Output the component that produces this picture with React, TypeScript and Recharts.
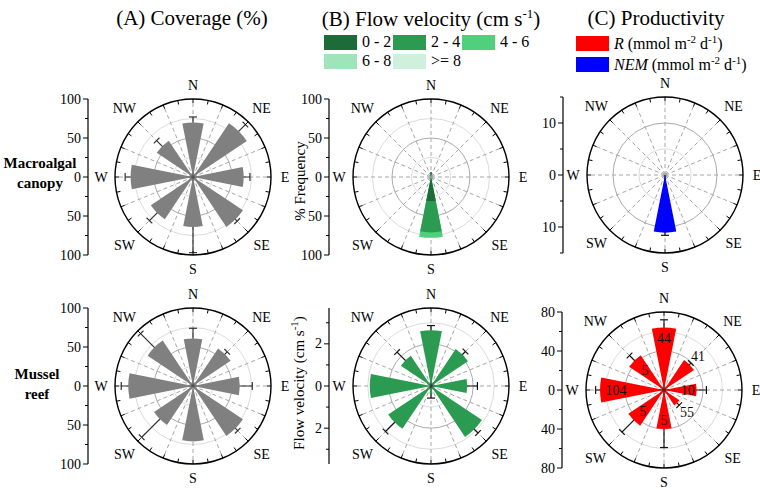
import React from 'react';
import { RadarChart, Radar, PolarGrid, PolarAngleAxis, PolarRadiusAxis, Sector, LineChart, YAxis } from 'recharts';

const SERIF = '"Liberation Serif", "Times New Roman", serif';

const directions = ['N', 'NE', 'E', 'SE', 'S', 'SW', 'W', 'NW'];
// 32 angular slots (every 11.25 deg) so the compass ring gets its minor ticks
const angleKeys = Array.from({ length: 32 }, (_, i) => String(i * 11.25));

// (A) Coverage (%), mean and + error
const canopyCover = [70, 83, 65, 77, 64, 65, 80, 56];
const canopyCoverErr = [7, 12, 8, 3, 33, 14, 7, 10];
const reefCover = [61, 58, 60, 77, 71, 60, 83, 70];
const reefCoverErr = [13, 4, 16, 4, 0, 33, 9, 25];

// (B) Flow velocity: canopy as % frequency per speed class, reef as mean velocity
const speedClasses = ['0 - 2', '2 - 4', '4 - 6', '6 - 8', '>= 8'];
const canopyFreq0to2 = [6, 0, 0, 0, 31, 0, 0, 0];
const canopyFreq2to4 = [0, 0, 0, 0, 40, 0, 0, 0];
const canopyFreq4to6 = [0, 0, 0, 0, 7, 0, 0, 0];
const reefVelocity = [2.86, 2.28, 1.86, 3.14, 0.4, 2.64, 3.14, 1.86];
const reefVelocityErr = [0.24, 0.22, 0.52, 0.27, 0.22, 0.66, 0, 0.6];

// (C) Productivity
const canopyNEM = [0, 0, 0, 0, 11.1, 0, 0, 0];
const canopyNEMErr = [0, 0, 0, 0, 0.5, 0, 0, 0];
const reefR = [64, 37, 33.5, 19, 40, 44, 65.6, 43];
const reefRErr = [8, 2, 10, 3, 19, 17, 4.5, 7];
const reefRCounts = ['44', '41', '10', '55', '5', '5', '104', '5'];

// radius axis ticks (labelled ones are a subset)
const coverageTicks = [0, 25, 50, 75, 100];
const coverageLabels = [0, 50, 100];
const velocityTicks = [0, 1, 2, 3];
const velocityLabels = [0, 2];
const nemTicks = [0, 5, 10, 15];
const nemLabels = [0, 10];
const rTicks = [0, 20, 40, 60, 80];
const rLabels = [0, 40, 80];

const speedColors = ['#1d6b39', '#2a9b50', '#50cf7d', '#a0e4ba', '#d0f0de'];
const GRAY = '#808080';
const RED = '#ff0000';
const BLUE = '#0000ff';

const R = 78;
const BOX = 125;
const HALF = 11.25;
const RAD = Math.PI / 180;
const spokeAngles = Array.from({ length: 16 }, (_, i) => i * 22.5);

function roseRows(series: Record<string, (number | null)[]>) {
  return angleKeys.map((key, i) => {
    const row: Record<string, any> = { key };
    if (i % 4 === 0) {
      Object.entries(series).forEach(([name, vals]) => {
        row[name] = vals[i / 4];
      });
    }
    return row;
  });
}

const withErr = (v: number[], e: number[]) => v.map((x, i) => (e[i] > 0 ? x + e[i] : null));
const cumulative = (...layers: number[][]) =>
  layers.map((_, k) => layers[0].map((__, i) => layers.slice(0, k + 1).reduce((s, l) => s + l[i], 0)));

const okPoint = (p: any) => Number.isFinite(p.radius) && p.radius > 0 && p.value != null;

const wedgeShape = (color: string) => (props: any) => (
  <g>
    {(props.points || []).filter(okPoint).map((p: any, i: number) => (
      <Sector
        key={i}
        cx={p.cx}
        cy={p.cy}
        innerRadius={0}
        outerRadius={p.radius}
        startAngle={p.angle - HALF}
        endAngle={p.angle + HALF}
        fill={color}
        stroke="none"
      />
    ))}
  </g>
);

const errorShape = (color: string) => (props: any) => (
  <g>
    {(props.points || []).filter(okPoint).map((p: any, i: number) => {
      const ux = Math.cos(-p.angle * RAD);
      const uy = Math.sin(-p.angle * RAD);
      return (
        <g key={i} stroke={color} strokeWidth={1.2}>
          <line x1={p.cx} y1={p.cy} x2={p.x} y2={p.y} />
          <line x1={p.x - 4 * uy} y1={p.y + 4 * ux} x2={p.x + 4 * uy} y2={p.y - 4 * ux} />
        </g>
      );
    })}
  </g>
);

// label offsets (px along the radius from the bar end), N..NW
const countOffsets = [-11, 12, -9, 14, -9, -13, -16, -15];

const countShape = (texts: string[]) => (props: any) => (
  <g>
    {(props.points || []).filter(okPoint).map((p: any, i: number) => {
      const idx = Math.round(Number(p.payload.key) / 45);
      const rr = p.radius + countOffsets[idx];
      return (
        <text
          key={i}
          x={p.cx + rr * Math.cos(-p.angle * RAD)}
          y={p.cy + rr * Math.sin(-p.angle * RAD)}
          textAnchor="middle"
          dominantBaseline="central"
          fontSize={14}
          fontFamily={SERIF}
          fill="#111"
        >
          {texts[idx]}
        </text>
      );
    })}
  </g>
);

const dirTick = (props: any) => {
  const deg = Number(props.payload.value);
  if (deg % 45 !== 0) return <g />;
  const rr = R + (deg % 90 === 0 ? 14 : 19);
  return (
    <text
      x={BOX + rr * Math.sin(deg * RAD)}
      y={BOX - rr * Math.cos(deg * RAD)}
      textAnchor="middle"
      dominantBaseline="central"
      fontSize={14}
      fontFamily={SERIF}
      fill="#000"
    >
      {directions[deg / 45]}
    </text>
  );
};

type Layer = { key: string; color: string; kind: 'wedge' | 'error' | 'count'; texts?: string[] };

interface RoseProps {
  cx: number;
  cy: number;
  max: number;
  majors: number[];
  minors: number[];
  rows: Record<string, any>[];
  layers: Layer[];
}

function Rose({ cx, cy, max, majors, minors, rows, layers }: RoseProps) {
  const px = (v: number) => (v / max) * R;
  return (
    <div style={{ position: 'absolute', left: cx - BOX, top: cy - BOX }}>
      <RadarChart
        width={BOX * 2}
        height={BOX * 2}
        cx={BOX}
        cy={BOX}
        innerRadius={0}
        outerRadius={R}
        startAngle={90}
        endAngle={-270}
        data={rows}
        margin={{ top: 0, right: 0, bottom: 0, left: 0 }}
      >
        <PolarGrid gridType="circle" radialLines={false} polarRadius={minors.map(px)} stroke="#dcdcdc" />
        <PolarGrid gridType="circle" radialLines={false} polarRadius={majors.map(px)} stroke="#ababab" />
        <PolarGrid gridType="circle" polarRadius={[]} polarAngles={spokeAngles} stroke="#a6a6a6" strokeDasharray="4 3" />
        <PolarRadiusAxis type="number" domain={[0, max]} allowDataOverflow tick={false} axisLine={false} />
        <PolarAngleAxis
          dataKey="key"
          axisLineType="circle"
          axisLine={{ stroke: '#000', strokeWidth: 1.4 }}
          tickLine={{ stroke: '#000' }}
          orientation="inner"
          tickSize={4}
          tick={dirTick}
        />
        {layers.map((l) => (
          <Radar
            key={l.key + l.kind}
            dataKey={l.key}
            isAnimationActive={false}
            shape={
              l.kind === 'wedge' ? wedgeShape(l.color) : l.kind === 'error' ? errorShape(l.color) : countShape(l.texts || [])
            }
          />
        ))}
      </RadarChart>
    </div>
  );
}

function SideAxis({ axisX, cy, max, ticks, labeled }: { axisX: number; cy: number; max: number; ticks: number[]; labeled: number[] }) {
  const W = 60;
  const allTicks = [...ticks.slice(1).map((t) => -t).reverse(), ...ticks];
  const renderTick = (props: any) => {
    const { x, y, payload } = props;
    const v = Math.abs(payload.value);
    const major = labeled.includes(v);
    return (
      <g>
        <line x1={x} x2={x - (major ? 5 : 3)} y1={y} y2={y} stroke="#000" />
        {major && (
          <text x={x - 7} y={y} textAnchor="end" dominantBaseline="central" fontSize={14} fontFamily={SERIF} fill="#000">
            {v}
          </text>
        )}
      </g>
    );
  };
  return (
    <div style={{ position: 'absolute', left: axisX - W, top: cy - R - 10 }}>
      <LineChart width={W + 10} height={2 * R + 20} data={[]} margin={{ top: 10, right: 0, bottom: 10, left: 0 }}>
        <YAxis
          type="number"
          domain={[-max, max]}
          allowDataOverflow
          ticks={allTicks}
          interval={0}
          width={W}
          tickSize={0}
          tickMargin={0}
          tickLine={false}
          axisLine={{ stroke: '#000', strokeWidth: 1.2 }}
          tick={renderTick}
        />
      </LineChart>
    </div>
  );
}

const abs = (x: number, y: number): React.CSSProperties => ({ position: 'absolute', left: x, top: y });

function Swatch({ x, y, color, children }: { x: number; y: number; color: string; children: React.ReactNode }) {
  return (
    <div style={{ ...abs(x, y), display: 'flex', alignItems: 'center', whiteSpace: 'nowrap', fontSize: 16 }}>
      <div style={{ width: 33, height: 15, background: color, marginRight: 5 }} />
      <span>{children}</span>
    </div>
  );
}

export default function App() {
  const [cCover, rCover] = [
    roseRows({ v: canopyCover, hi: withErr(canopyCover, canopyCoverErr) }),
    roseRows({ v: reefCover, hi: withErr(reefCover, reefCoverErr) }),
  ];
  const [c1, c2, c3] = cumulative(canopyFreq0to2, canopyFreq2to4, canopyFreq4to6);
  const cFlow = roseRows({ c1, c2, c3 });
  const rFlow = roseRows({ v: reefVelocity, hi: withErr(reefVelocity, reefVelocityErr) });
  const cProd = roseRows({ v: canopyNEM, hi: withErr(canopyNEM, canopyNEMErr) });
  const rProd = roseRows({ v: reefR, hi: withErr(reefR, reefRErr) });

  const title: React.CSSProperties = { position: 'absolute', top: 6, fontSize: 21, whiteSpace: 'nowrap', transform: 'translateX(-50%)' };
  const rowLabel: React.CSSProperties = { position: 'absolute', fontWeight: 'bold', fontSize: 15, textAlign: 'center', lineHeight: '20px', transform: 'translateX(-50%)' };
  const vTitle: React.CSSProperties = { position: 'absolute', fontSize: 15, whiteSpace: 'nowrap', transform: 'translate(-50%, -50%) rotate(-90deg)' };

  return (
    <div style={{ position: 'absolute', left: 0, top: 0, width: 760, height: 490, background: '#fff', fontFamily: SERIF, color: '#000', overflow: 'hidden' }}>
      <div style={{ ...title, left: 192 }}>(A) Coverage (%)</div>
      <div style={{ ...title, left: 431 }}>
        (B) Flow velocity (cm s<sup style={{ fontSize: 13 }}>-1</sup>)
      </div>
      <div style={{ ...title, left: 656 }}>(C) Productivity</div>

      {speedClasses.map((s, i) => (
        <Swatch key={s} x={324 + (i % 3) * 69} y={33 + Math.floor(i / 3) * 19} color={speedColors[i]}>
          {s}
        </Swatch>
      ))}
      <Swatch x={576} y={33} color={RED}>
        <i>R</i> (mmol m<sup style={{ fontSize: 11 }}>-2</sup> d<sup style={{ fontSize: 11 }}>-1</sup>)
      </Swatch>
      <Swatch x={576} y={54} color={BLUE}>
        <i>NEM</i> (mmol m<sup style={{ fontSize: 11 }}>-2</sup> d<sup style={{ fontSize: 11 }}>-1</sup>)
      </Swatch>

      <div style={{ ...rowLabel, left: 40, top: 153 }}>
        Macroalgal
        <br />
        canopy
      </div>
      <div style={{ ...rowLabel, left: 37, top: 364 }}>
        Mussel
        <br />
        reef
      </div>

      <div style={{ ...vTitle, left: 300, top: 181 }}>% Frequency</div>
      <div style={{ ...vTitle, left: 298, top: 383 }}>
        Flow velocity (cm s<sup style={{ fontSize: 11 }}>-1</sup>)
      </div>

      <SideAxis axisX={88} cy={177} max={100} ticks={coverageTicks} labeled={coverageLabels} />
      <SideAxis axisX={329} cy={177} max={100} ticks={coverageTicks} labeled={coverageLabels} />
      <SideAxis axisX={563} cy={175} max={15} ticks={nemTicks} labeled={nemLabels} />
      <SideAxis axisX={88} cy={386} max={100} ticks={coverageTicks} labeled={coverageLabels} />
      <SideAxis axisX={329} cy={386} max={3.7} ticks={velocityTicks} labeled={velocityLabels} />
      <SideAxis axisX={562} cy={390} max={80} ticks={rTicks} labeled={rLabels} />

      <Rose
        cx={193}
        cy={177}
        max={100}
        majors={[50]}
        minors={[25, 75]}
        rows={cCover}
        layers={[
          { key: 'hi', color: '#333', kind: 'error' },
          { key: 'v', color: GRAY, kind: 'wedge' },
        ]}
      />
      <Rose
        cx={431}
        cy={177}
        max={100}
        majors={[50]}
        minors={[25, 75]}
        rows={cFlow}
        layers={[
          { key: 'c3', color: speedColors[2], kind: 'wedge' },
          { key: 'c2', color: speedColors[1], kind: 'wedge' },
          { key: 'c1', color: speedColors[0], kind: 'wedge' },
        ]}
      />
      <Rose
        cx={665}
        cy={175}
        max={15}
        majors={[10]}
        minors={[5]}
        rows={cProd}
        layers={[
          { key: 'hi', color: '#111', kind: 'error' },
          { key: 'v', color: BLUE, kind: 'wedge' },
        ]}
      />
      <Rose
        cx={193}
        cy={386}
        max={100}
        majors={[50]}
        minors={[25, 75]}
        rows={rCover}
        layers={[
          { key: 'hi', color: '#333', kind: 'error' },
          { key: 'v', color: GRAY, kind: 'wedge' },
        ]}
      />
      <Rose
        cx={431}
        cy={386}
        max={3.7}
        majors={[2]}
        minors={[1, 3]}
        rows={rFlow}
        layers={[
          { key: 'hi', color: '#111', kind: 'error' },
          { key: 'v', color: speedColors[1], kind: 'wedge' },
        ]}
      />
      <Rose
        cx={664}
        cy={390}
        max={80}
        majors={[40]}
        minors={[20, 60]}
        rows={rProd}
        layers={[
          { key: 'hi', color: '#111', kind: 'error' },
          { key: 'v', color: RED, kind: 'wedge' },
          { key: 'v', color: '#111', kind: 'count', texts: reefRCounts },
        ]}
      />
    </div>
  );
}
